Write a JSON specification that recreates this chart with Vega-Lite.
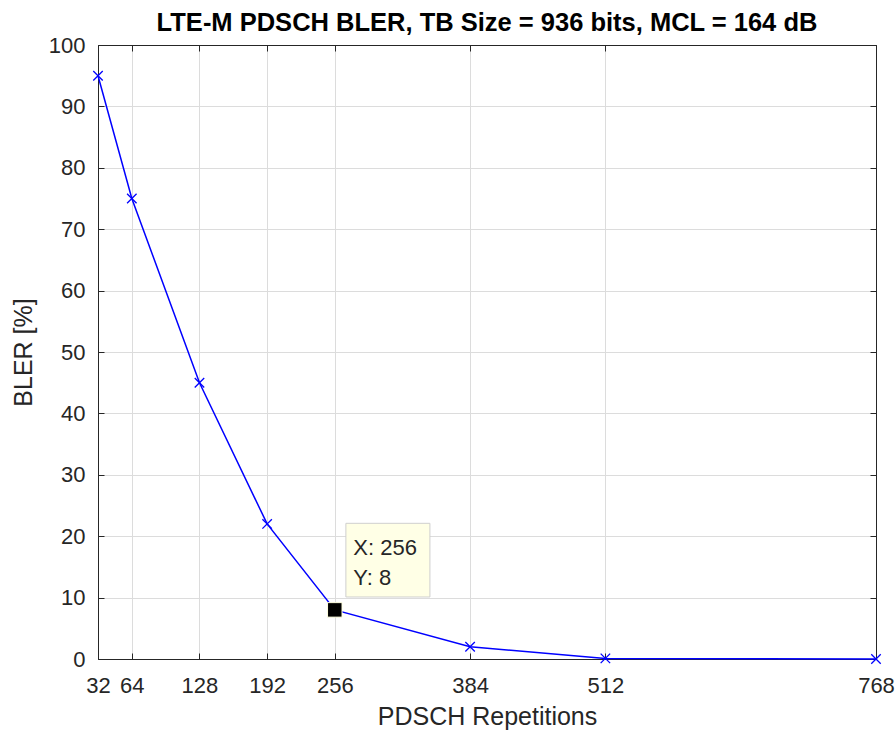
{
  "$schema": "https://vega.github.io/schema/vega-lite/v6.json",
  "width": 778,
  "height": 614,
  "autosize": {"type": "none"},
  "padding": {"left": 98, "top": 45, "right": 20, "bottom": 77},
  "background": "white",
  "title": {
    "text": "LTE-M PDSCH BLER, TB Size = 936 bits, MCL = 164 dB",
    "font": "Liberation Sans",
    "fontSize": 25.5,
    "fontWeight": "bold",
    "color": "#000000",
    "offset": -2,
    "anchor": "middle"
  },
  "config": {
    "view": {"stroke": "#262626", "strokeWidth": 1},
    "axis": {
      "domainColor": "#262626",
      "tickColor": "#262626",
      "labelColor": "#262626",
      "titleColor": "#262626",
      "labelFont": "Liberation Sans",
      "titleFont": "Liberation Sans",
      "labelFontSize": 22,
      "titleFontSize": 25,
      "titleFontWeight": "normal",
      "gridColor": "#dcdcdc",
      "gridWidth": 1,
      "labelOverlap": false
    }
  },
  "datasets": {
    "bler": [
      {"rep": 32, "bler": 95},
      {"rep": 64, "bler": 75},
      {"rep": 128, "bler": 45},
      {"rep": 192, "bler": 22},
      {"rep": 256, "bler": 8},
      {"rep": 384, "bler": 2},
      {"rep": 512, "bler": 0.1},
      {"rep": 768, "bler": 0}
    ],
    "tip": [
      {"x1": 266.5, "x2": 346, "y1": 10.1, "y2": 22.1, "px": 256, "py": 8}
    ],
    "tiptext": [
      {"tx": 273.5, "ty": 16.9, "label": "X: 256"},
      {"tx": 273.5, "ty": 12.0, "label": "Y: 8"}
    ]
  },
  "layer": [
    {
      "data": {"name": "bler"},
      "mark": {"type": "line", "color": "#0000ff", "strokeWidth": 1.5},
      "encoding": {
        "x": {
          "field": "rep", "type": "quantitative",
          "scale": {"domain": [32, 768], "nice": false, "zero": false},
          "axis": {
            "title": "PDSCH Repetitions",
            "values": [32, 64, 128, 192, 256, 384, 512, 768],
            "tickSize": -6,
            "labelPadding": 22,
            "titlePadding": 8,
            "labelFlush": false,
            "labelOverlap": false,
            "grid": true,
            "domain": true
          }
        },
        "y": {
          "field": "bler", "type": "quantitative",
          "scale": {"domain": [0, 100], "nice": false},
          "axis": {
            "title": "BLER [%]",
            "values": [0, 10, 20, 30, 40, 50, 60, 70, 80, 90, 100],
            "tickSize": -6,
            "labelPadding": 19,
            "titlePadding": 12,
            "labelFlush": false,
            "labelOverlap": false,
            "grid": true,
            "domain": true
          }
        }
      }
    },
    {
      "data": {"name": "bler"},
      "mark": {"type": "point", "shape": "M-1,-1L1,1M-1,1L1,-1", "filled": false, "color": "#0000ff", "strokeWidth": 1.3, "size": 90, "opacity": 1},
      "encoding": {
        "x": {
          "field": "rep", "type": "quantitative",
          "axis": {"orient": "top", "title": null, "labels": false, "values": [32, 64, 128, 192, 256, 384, 512, 768], "tickSize": -6, "grid": false}
        },
        "y": {
          "field": "bler", "type": "quantitative",
          "axis": {"orient": "right", "title": null, "labels": false, "values": [0, 10, 20, 30, 40, 50, 60, 70, 80, 90, 100], "tickSize": -6, "grid": false}
        }
      }
    },
    {
      "data": {"name": "tip"},
      "mark": {"type": "rect", "fill": "#ffffe6", "stroke": "#cfcfcf", "strokeWidth": 1},
      "encoding": {
        "x": {"field": "x1", "type": "quantitative", "axis": null},
        "x2": {"field": "x2"},
        "y": {"field": "y1", "type": "quantitative", "axis": null},
        "y2": {"field": "y2"}
      }
    },
    {
      "data": {"name": "tiptext"},
      "mark": {"type": "text", "align": "left", "baseline": "alphabetic", "font": "Liberation Sans", "fontSize": 22, "color": "#262626"},
      "encoding": {
        "x": {"field": "tx", "type": "quantitative", "axis": null},
        "y": {"field": "ty", "type": "quantitative", "axis": null},
        "text": {"field": "label"}
      }
    },
    {
      "data": {"name": "tip"},
      "mark": {"type": "point", "shape": "square", "filled": true, "color": "#000000", "stroke": "#ffffe0", "strokeWidth": 1, "size": 210, "opacity": 1},
      "encoding": {
        "x": {"field": "px", "type": "quantitative", "axis": null},
        "y": {"field": "py", "type": "quantitative", "axis": null}
      }
    }
  ],
  "resolve": {"axis": {"x": "independent", "y": "independent"}}
}
